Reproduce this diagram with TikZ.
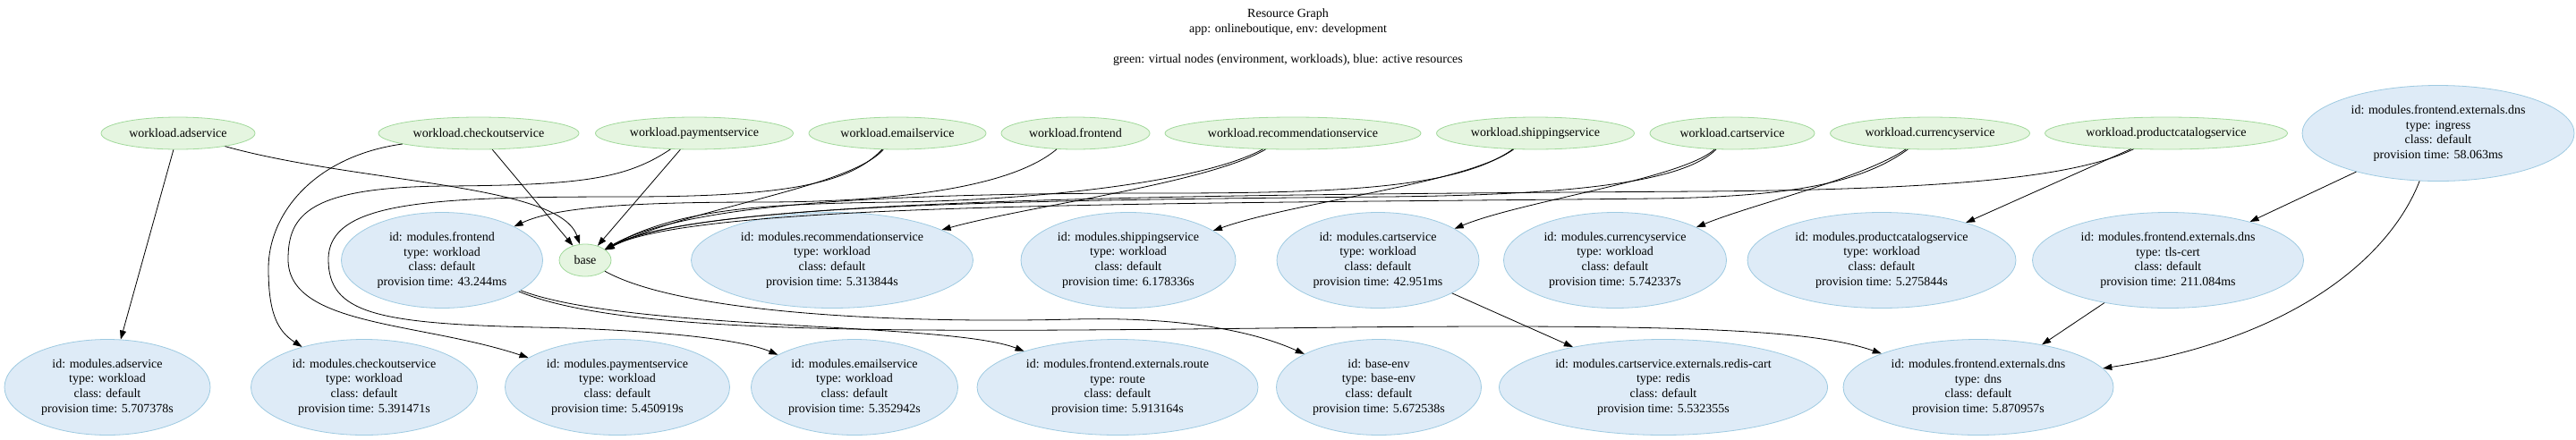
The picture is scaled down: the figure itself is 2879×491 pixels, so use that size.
\documentclass[tikz,border=0pt]{standalone}
\usepackage{fontspec}
\setmainfont{Liberation Serif}
\usepackage{tikz}
\usetikzlibrary{positioning,calc,shapes.geometric,arrows.meta}
\definecolor{vgreen}{HTML}{A1D99B}
\definecolor{vgreenfill}{HTML}{E5F5E0}
\definecolor{ablue}{HTML}{9ECAE1}
\definecolor{abluefill}{HTML}{DEEBF7}
\newcommand{\gnode}[4]{\node [virt, minimum width=#4pt] (#1) at (#2) {#3}}
\newcommand{\bnode}[4]{\node [actv, minimum width=#4pt] (#1) at (#2) {#3}}

\begin{document}
\begin{tikzpicture}[x=1pt, y=-1pt,
  virt/.style={ellipse, draw=vgreen, fill=vgreenfill, line width=0.8pt, inner sep=0pt, minimum height=36pt, font=\fontsize{14}{16.8}\selectfont},
  actv/.style={ellipse, draw=ablue, fill=abluefill, line width=0.8pt, inner sep=0pt, minimum height=107pt, align=center, font=\fontsize{14}{16.8}\selectfont},
  dep/.style={-{Triangle[length=10pt, width=7pt]}, line width=0.8pt}]

\useasboundingbox (0,0) rectangle (2879,491);

\node [anchor=north, align=center, inner sep=0pt, font=\fontsize{14}{16.8}\selectfont] (title) at (1439.5,10) {Resource Graph\\app: onlineboutique, env: development\\[17pt]green: virtual nodes (environment, workloads), blue: active resources};

\gnode{wad}{199,149}{workload.adservice}{172};
\gnode{wco}{535,149}{workload.checkoutservice}{224};
\gnode{wpa}{776,149}{workload.paymentservice}{221};
\gnode{wem}{1003,149}{workload.emailservice}{198};
\gnode{wfr}{1202,149}{workload.frontend}{166};
\gnode{wre}{1445,149}{workload.recommendationservice}{286};
\gnode{wsh}{1716,149}{workload.shippingservice}{221};
\gnode{wca}{1936,149}{workload.cartservice}{184};
\gnode{wcu}{2157,149}{workload.currencyservice}{223};
\gnode{wpc}{2421,149}{workload.productcatalogservice}{271};
\bnode{ing}{2725,149}{id: modules.frontend.externals.dns\\type: ingress\\class: default\\provision time: 58.063ms}{304};

\bnode{mfr}{494,291}{id: modules.frontend\\type: workload\\class: default\\provision time: 43.244ms}{225};
\gnode{base}{654,291}{base}{58};
\bnode{mre}{930,291}{id: modules.recommendationservice\\type: workload\\class: default\\provision time: 5.313844s}{315};
\bnode{msh}{1261,291}{id: modules.shippingservice\\type: workload\\class: default\\provision time: 6.178336s}{240};
\bnode{mca}{1540,291}{id: modules.cartservice\\type: workload\\class: default\\provision time: 42.951ms}{226};
\bnode{mcu}{1805,291}{id: modules.currencyservice\\type: workload\\class: default\\provision time: 5.742337s}{249};
\bnode{mpc}{2103,291}{id: modules.productcatalogservice\\type: workload\\class: default\\provision time: 5.275844s}{300};
\bnode{tls}{2423,291}{id: modules.frontend.externals.dns\\type: tls-cert\\class: default\\provision time: 211.084ms}{303};

\bnode{mad}{120,433}{id: modules.adservice\\type: workload\\class: default\\provision time: 5.707378s}{230};
\bnode{mco}{407,433}{id: modules.checkoutservice\\type: workload\\class: default\\provision time: 5.391471s}{253};
\bnode{mpa}{690,433}{id: modules.paymentservice\\type: workload\\class: default\\provision time: 5.450919s}{251};
\bnode{mem}{955,433}{id: modules.emailservice\\type: workload\\class: default\\provision time: 5.352942s}{231};
\bnode{rte}{1249,433}{id: modules.frontend.externals.route\\type: route\\class: default\\provision time: 5.913164s}{314};
\bnode{benv}{1541,433}{id: base-env\\type: base-env\\class: default\\provision time: 5.672538s}{229};
\bnode{rds}{1859,433}{id: modules.cartservice.externals.redis-cart\\type: redis\\class: default\\provision time: 5.532355s}{367};
\bnode{dns}{2211,433}{id: modules.frontend.externals.dns\\type: dns\\class: default\\provision time: 5.870957s}{302};

\draw[dep] (wad) -- (mad);
\draw[dep] (wad) .. controls (400,205) and (625,205) .. (base);
\draw[dep] (wco) -- (base);
\draw[dep] (wco) .. controls (350,175) and (300,240) .. (300,300) .. controls (300,350) and (310,370) .. (mco);
\draw[dep] (wpa) -- (base);
\draw[dep] (wpa) .. controls (700,200) and (650,207) .. (500,208) .. controls (345,209) and (322,240) .. (322,290) .. controls (322,365) and (470,360) .. (mpa);
\draw[dep] (wem) .. controls (950,210) and (770,232) .. (base);
\draw[dep] (wem) .. controls (950,205) and (880,220) .. (700,220) .. controls (480,220) and (367,225) .. (367,290) .. controls (367,350) and (420,362) .. (600,366) .. controls (740,369) and (830,380) .. (mem);
\draw[dep] (wfr) .. controls (1130,210) and (1000,226) .. (850,226) .. controls (700,226) and (620,232) .. (mfr);
\draw[dep] (wre) .. controls (1350,205) and (1150,230) .. (mre);
\draw[dep] (wre) .. controls (1340,205) and (1150,224) .. (1000,226) .. controls (860,228) and (760,232) .. (base);
\draw[dep] (wsh) .. controls (1640,205) and (1450,225) .. (msh);
\draw[dep] (wsh) .. controls (1630,210) and (1500,216) .. (1300,216) .. controls (1000,216) and (770,226) .. (base);
\draw[dep] (wca) .. controls (1880,200) and (1700,225) .. (mca);
\draw[dep] (wca) .. controls (1880,205) and (1750,218) .. (1550,220) .. controls (1100,224) and (770,230) .. (base);
\draw[dep] (wcu) .. controls (2080,200) and (1960,228) .. (mcu);
\draw[dep] (wcu) .. controls (2080,205) and (2000,220) .. (1850,222) .. controls (1300,228) and (780,226) .. (base);
\draw[dep] (wpc) -- (mpc);
\draw[dep] (wpc) .. controls (2320,198) and (2180,212) .. (1900,214) .. controls (1300,218) and (780,222) .. (base);
\draw[dep] (ing) -- (tls);
\draw[dep] (ing) .. controls (2670,290) and (2560,380) .. (dns);
\draw[dep] (tls) -- (dns);
\draw[dep] (mca) -- (rds);
\draw[dep] (base) .. controls (760,350) and (1000,362) .. (1200,357) .. controls (1320,354) and (1400,370) .. (benv);
\draw[dep] (mfr) .. controls (700,370) and (1060,360) .. (rte);
\draw[dep] (mfr) .. controls (700,375) and (1000,372) .. (1500,366) .. controls (1900,362) and (2030,370) .. (dns);

\end{tikzpicture}
\end{document}
